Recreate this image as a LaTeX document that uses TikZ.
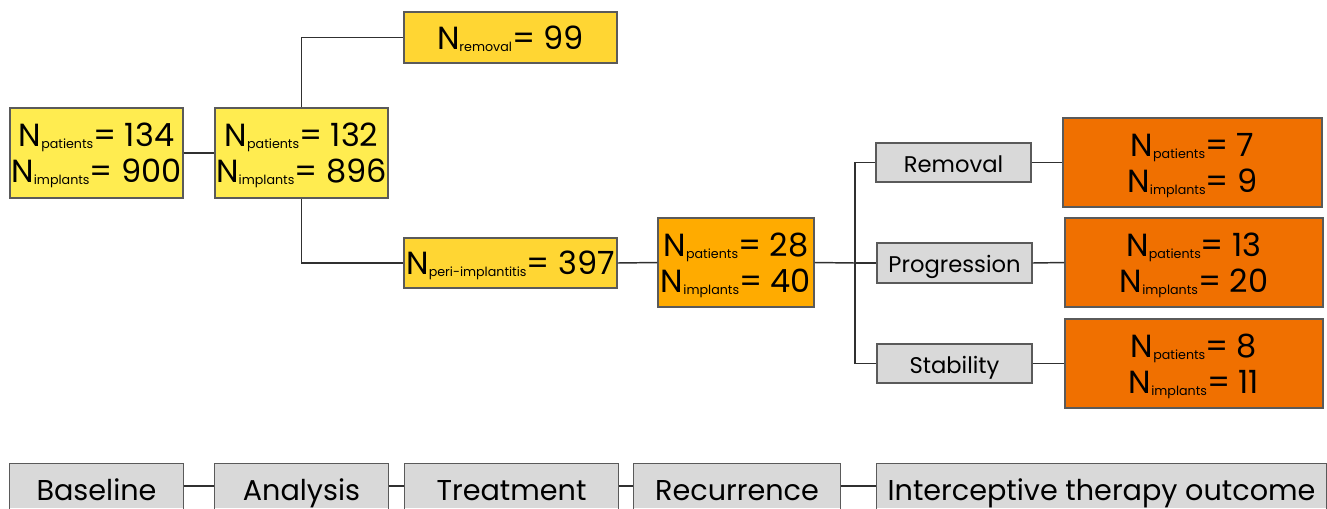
\documentclass[tikz,border=0pt]{standalone}
\usepackage{fontspec}
\setmainfont{Poppins}
\newlength\pxu
\setlength\pxu{0.75pt}
\definecolor{ylight}{HTML}{FFEC50}
\definecolor{ygold}{HTML}{FFD633}
\definecolor{omid}{HTML}{FFAB00}
\definecolor{odark}{HTML}{F07000}
\definecolor{gbox}{HTML}{D9D9D9}
\definecolor{bord}{HTML}{5A5A5A}
\definecolor{wire}{HTML}{303030}
\newcommand\Nx[2]{N\smash{\raisebox{-1.5pt}{\fontsize{9.5}{10}\selectfont #1}}=~#2}
\newcommand\Ntwo[4]{\rule{0pt}{18pt}\Nx{#1}{#2}\\\Nx{#3}{#4}}
\newcommand\None[2]{\rule{0pt}{17pt}\Nx{#1}{#2}}
\tikzset{
  box/.style={draw=bord, line width=0.8pt, inner sep=0pt, align=center,
    font=\fontsize{24}{27}\selectfont},
  numbox/.style={box},
  graybox/.style={box, fill=gbox, font=\fontsize{17}{20}\selectfont, text height=14.25pt, text depth=0pt},
  stagebox/.style={box, draw=none, fill=gbox, font=\fontsize{21.5}{24}\selectfont, text height=22pt, text depth=0pt, minimum height=44\pxu},
  stageedge/.style={draw=bord, line width=0.8pt},
  wirestyle/.style={draw=wire, line width=1.1pt}
}
\begin{document}
\begin{tikzpicture}[x=0.75pt, y=-0.75pt]
\useasboundingbox (0,0) rectangle (1327,508);
\fill[white] (0,0) rectangle (1327,508);
% yellow column
\node[numbox, fill=ylight, minimum width=173\pxu, minimum height=90\pxu] (b1) at (96.5,153) {\Ntwo{patients}{134}{implants}{900}};
\node[numbox, fill=ylight, minimum width=173\pxu, minimum height=90\pxu] (b2) at (301.5,153) {\Ntwo{patients}{132}{implants}{896}};
\node[numbox, fill=ygold, minimum width=213\pxu, minimum height=51\pxu] (rem) at (510.5,37.5) {\None{removal}{99}};
\node[numbox, fill=ygold, minimum width=213\pxu, minimum height=50\pxu] (peri) at (510.5,263) {\None{peri-implantitis}{397}};
\node[numbox, fill=omid, minimum width=156\pxu, minimum height=89\pxu] (b28) at (736,262.5) {\Ntwo{patients}{28}{implants}{40}};
% gray outcomes
\node[graybox, minimum width=155\pxu, minimum height=39\pxu] (g1) at (953.5,162.5) {Removal};
\node[graybox, minimum width=155\pxu, minimum height=40\pxu] (g2) at (954.5,263) {Progression};
\node[graybox, minimum width=155\pxu, minimum height=39\pxu] (g3) at (954.5,363.5) {Stability};
% orange results
\node[numbox, fill=odark, minimum width=259\pxu, minimum height=89\pxu] (o1) at (1192.5,162.5) {\Ntwo{patients}{7}{implants}{9}};
\node[numbox, fill=odark, minimum width=258\pxu, minimum height=89\pxu] (o2) at (1194,262.5) {\Ntwo{patients}{13}{implants}{20}};
\node[numbox, fill=odark, minimum width=258\pxu, minimum height=89\pxu] (o3) at (1194,363.5) {\Ntwo{patients}{8}{implants}{11}};
% stage row (boxes run off the bottom edge)
\node[stagebox, minimum width=173\pxu] (s1) at (96.5,486) {Baseline};
\node[stagebox, minimum width=173\pxu] (s2) at (301.5,486) {Analysis};
\node[stagebox, minimum width=213\pxu] (s3) at (511.5,486) {Treatment};
\node[stagebox, minimum width=206\pxu] (s4) at (737,486) {Recurrence};
\node[stagebox, minimum width=449\pxu] (s5) at (1101.5,486) {Interceptive therapy outcome};
\foreach \s in {s1,s2,s3,s4,s5}
  \draw[stageedge] (\s.south west) -- (\s.north west) -- (\s.north east) -- (\s.south east);
% connectors
\coordinate (j) at (855,263);
\draw[wirestyle] (b1.east) -- (b2.west);
\draw[wirestyle] (b2.north) |- (rem.west);
\draw[wirestyle] (b2.south) |- (peri.west);
\draw[wirestyle] (peri.east) -- (b28.west);
\draw[wirestyle] (b28.east) -- (j);
\draw[wirestyle] (j) |- (g1.west);
\draw[wirestyle] (j) |- (g3.west);
\draw[wirestyle] (j) -- (g2.west);
\draw[wirestyle] (g1.east) -- (o1.west);
\draw[wirestyle] (g2.east) -- (o2.west);
\draw[wirestyle] (g3.east) -- (o3.west);
\draw[wirestyle] (s1.east) -- (s2.west);
\draw[wirestyle] (s2.east) -- (s3.west);
\draw[wirestyle] (s3.east) -- (s4.west);
\draw[wirestyle] (s4.east) -- (s5.west);
\end{tikzpicture}
\end{document}
